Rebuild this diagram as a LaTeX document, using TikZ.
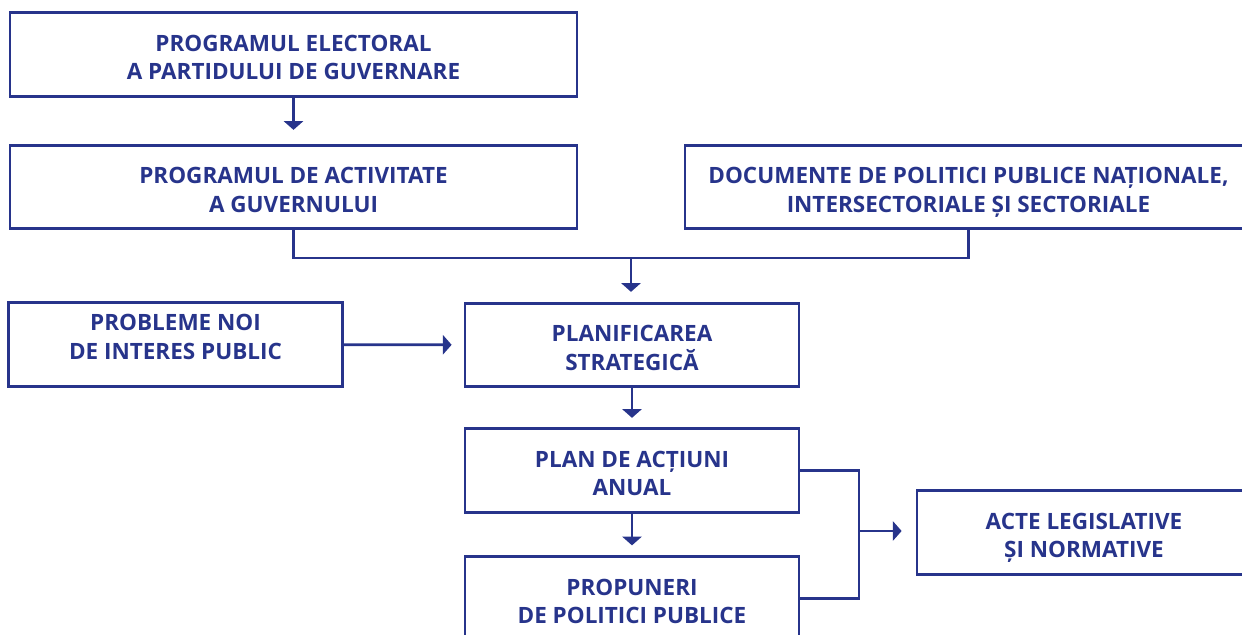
\documentclass[tikz,border=0pt]{standalone}
\usepackage{fontspec}
\setmainfont{Open Sans}
\usetikzlibrary{arrows.meta}
\definecolor{navy}{RGB}{39,52,139}

\begin{document}
\begin{tikzpicture}[x=0.02cm, y=-0.02cm,
        box/.style={draw=navy, line width=1.6pt, minimum width=6.68cm, minimum height=1.67cm,
            align=center, text=navy, font=\fontsize{12.8}{16.1}\selectfont\bfseries,
            text height=28.6pt, text depth=0pt},
        wide/.style={minimum width=11.34cm},
        link/.style={draw=navy, line width=1.6pt},
        arr/.style={link, -{Triangle[length=5pt, width=11pt]}, shorten >=0.24cm}]
    \useasboundingbox (0,0) rectangle (1242,635);
    % left column
    \node[box, wide] (electoral) at (293.5,54.5) {PROGRAMUL ELECTORAL\\A PARTIDULUI DE GUVERNARE};
    \node[box, wide] (activitate) at (293.5,187) {PROGRAMUL DE ACTIVITATE\\A GUVERNULUI};
    \node[box, wide] (documente) at (968.5,187) {DOCUMENTE DE POLITICI PUBLICE NAȚIONALE,\\INTERSECTORIALE ȘI SECTORIALE};
    \node[box, text height=25.2pt, text depth=8.6pt] (probleme) at (175.5,344.5) {PROBLEME NOI\\DE INTERES PUBLIC};
    % middle column
    \node[box] (planificare) at (632,345) {PLANIFICAREA\\STRATEGICĂ};
    \node[box] (plan) at (632,470.5) {PLAN DE ACȚIUNI\\ANUAL};
    \node[box] (propuneri) at (632,598.5) {PROPUNERI\\DE POLITICI PUBLICE};
    \node[box] (acte) at (1084,532.5) {ACTE LEGISLATIVE\\ȘI NORMATIVE};
    \coordinate (bus) at (631,258);
    \coordinate (join) at (859,531);
    % connectors
    \draw[arr, shorten >=0.28cm] (electoral) -- (activitate);
    \draw[link] (activitate.south) |- (bus) -| (documente.south);
    \draw[arr, shorten >=0.2cm] (bus) -- (bus |- planificare.north);
    \draw[arr] (probleme) -- (planificare);
    \draw[arr, shorten >=0.19cm] (planificare) -- (plan);
    \draw[arr, shorten >=0.2cm] (plan) -- (propuneri);
    \draw[link] (plan.east) -| (join) |- (propuneri.east);
    \draw[arr, shorten >=0.28cm] (join) -- (join -| acte.west);
\end{tikzpicture}
\end{document}
